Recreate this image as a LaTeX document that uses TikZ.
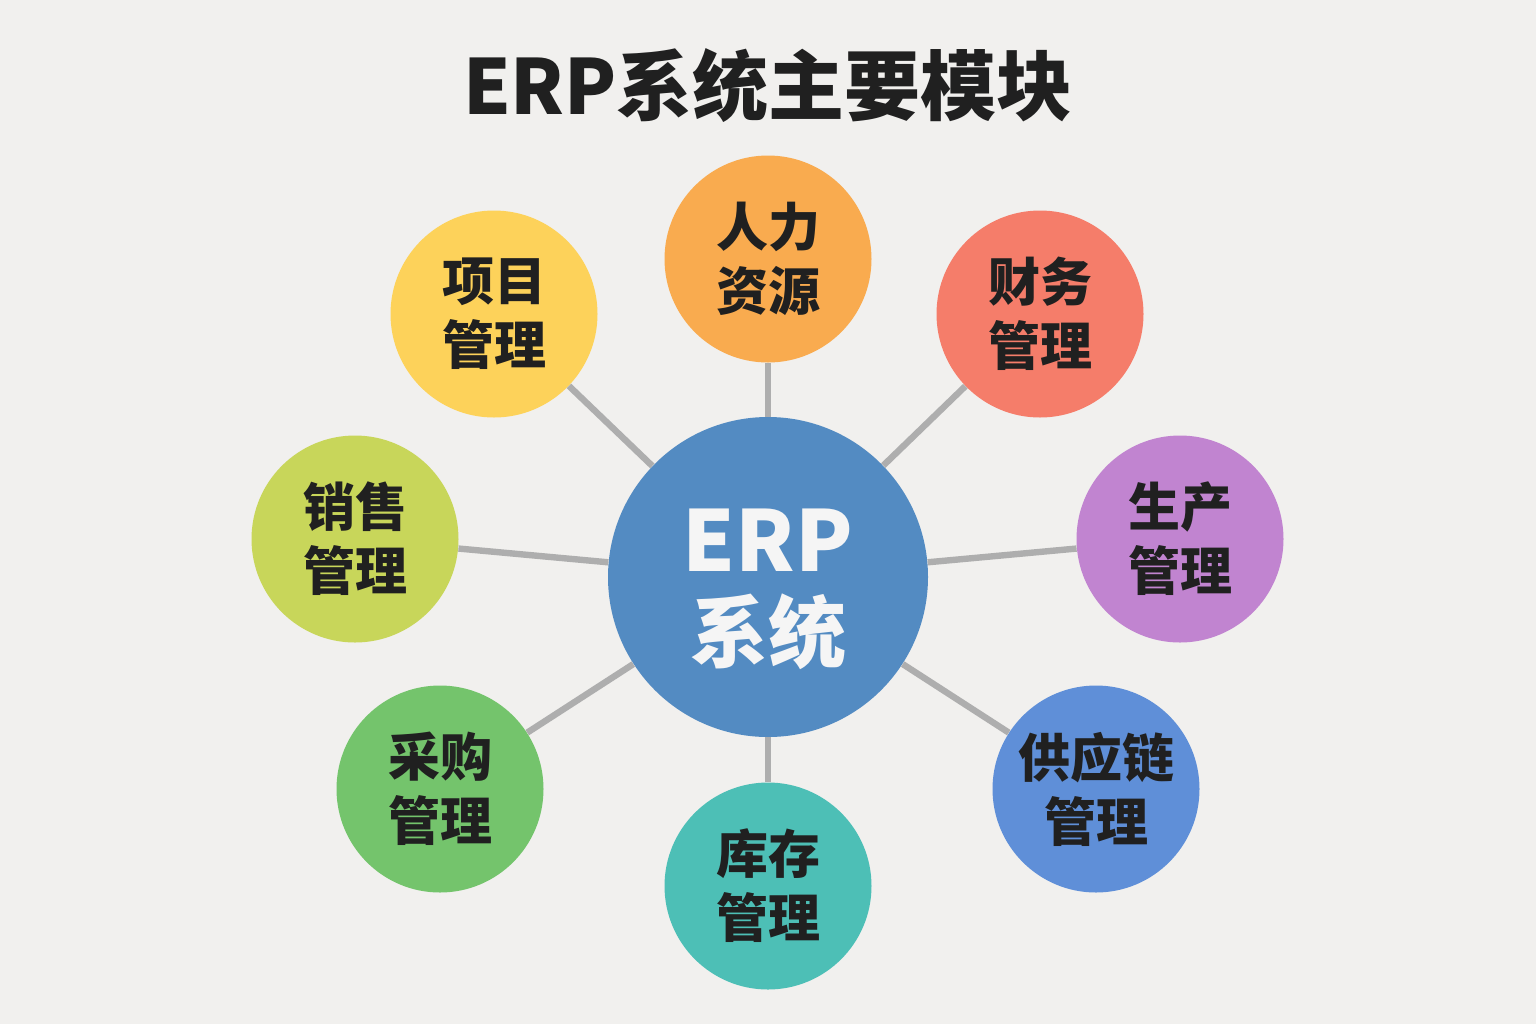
\documentclass[tikz,border=0pt]{standalone}
\usepackage{fontspec}
\newfontfamily\cjk{Noto Sans CJK SC}
\usepackage{tikz}
\usetikzlibrary{
  shapes.geometric,
  positioning,
  calc
}
\definecolor{erpbg}{RGB}{241,240,238}
\definecolor{erpink}{RGB}{32,32,32}
\definecolor{erpline}{RGB}{174,174,174}
\definecolor{erphub}{RGB}{83,139,194}
\definecolor{erporange}{RGB}{249,171,79}
\definecolor{erpyellow}{RGB}{253,210,90}
\definecolor{erpsalmon}{RGB}{245,125,106}
\definecolor{erppurple}{RGB}{193,132,208}
\definecolor{erpblue}{RGB}{95,143,216}
\definecolor{erpteal}{RGB}{77,191,182}
\definecolor{erpgreen}{RGB}{116,196,108}
\definecolor{erplime}{RGB}{200,214,90}
\tikzset{
  module/.style={
    circle, minimum size=103.5pt, inner sep=0pt, align=center,
    text=erpink, font=\cjk\bfseries\fontsize{26}{32}\selectfont
  },
  hub/.style={
    circle, fill=erphub, minimum size=160pt, inner sep=0pt
  },
  hubtext/.style={
    align=center, inner sep=0pt, yshift=-6pt, text=white!96!black
  },
  link/.style={line width=3.2pt, color=erpline}
}

\begin{document}
\begin{tikzpicture}[x=0.5pt, y=-0.5pt]
\fill[erpbg] (0,0) rectangle (1536,1024);
\useasboundingbox (0,0) rectangle (1536,1024);

\node[font=\cjk\bfseries\fontsize{38}{46}\selectfont, text=erpink] (title)
  at (768,86) {ERP系统主要模块};

\node[hub, label={[hubtext]center:{%
    {\cjk\bfseries\fontsize{42}{46}\selectfont ERP}\\[10pt]
    {\cjk\bfseries\fontsize{39}{44}\selectfont 系统}}}] (erp) at (768,577) {};

\node[module, fill=erporange] (hr)    at (768,259)  {人力\\资源};
\node[module, fill=erpsalmon] (fin)   at (1040,314) {财务\\管理};
\node[module, fill=erppurple] (prod)  at (1180,539) {生产\\管理};
\node[module, fill=erpblue]   (scm)   at (1096,789) {供应链\\管理};
\node[module, fill=erpteal]   (inv)   at (768,886)  {库存\\管理};
\node[module, fill=erpgreen]  (pur)   at (440,789)  {采购\\管理};
\node[module, fill=erplime]   (sales) at (355,539)  {销售\\管理};
\node[module, fill=erpyellow] (proj)  at (494,314)  {项目\\管理};

\draw[link] (erp) -- (hr);
\draw[link] (erp) -- (fin);
\draw[link] (erp) -- (prod);
\draw[link] (erp) -- (scm);
\draw[link] (erp) -- (inv);
\draw[link] (erp) -- (pur);
\draw[link] (erp) -- (sales);
\draw[link] (erp) -- (proj);
\end{tikzpicture}
\end{document}
